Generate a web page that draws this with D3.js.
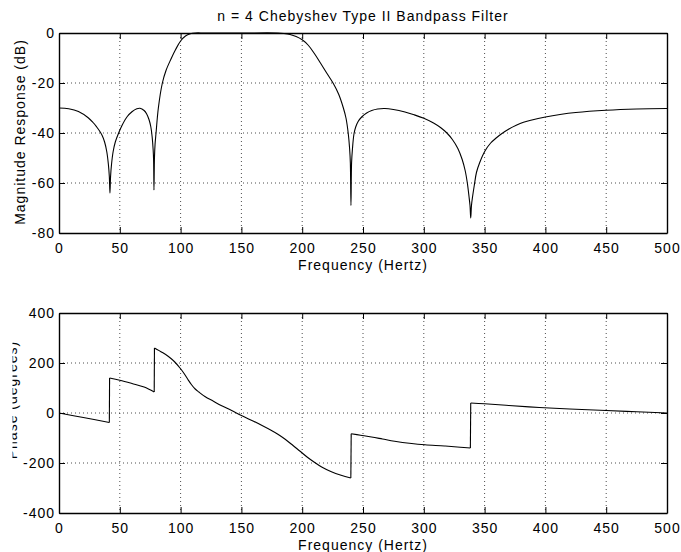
<!DOCTYPE html>
<html>
<head>
  <meta charset="UTF-8">
  <title>Filtro Chebyshev tipo II</title>
  <style>
    body { margin: 0; background: #fff; }
    text { font-family: "Liberation Sans", Arial, sans-serif; font-size: 14px; letter-spacing: 1px; fill: #000; }
  </style>
</head>
<body>
<script src="https://d3js.org/d3.v7.min.js"></script>
<script>
  // datos
  let titulo = 'n = 4 Chebyshev Type II Bandpass Filter';
  let etiquetaX = 'Frequency (Hertz)';
  let etiquetaMag = 'Magnitude Response (dB)';
  let etiquetaFase = 'Phase (degrees)';

  // respuesta en magnitud (Hz, dB)
  let freqMag = [0, 8, 16, 24, 28, 31, 33.5, 35.5, 37.5, 39.3, 40.6, 41.4, 41.9, 42.4, 43.2, 44.5, 46.3, 48.8, 52, 56, 60, 64, 66.6,
    70, 72, 74, 75.5, 76.6, 77.4, 77.8, 78.1, 78.5, 79, 79.8, 81.7, 85, 88, 92, 96, 100, 104, 108, 112, 120,
    150, 180, 185, 190, 195, 200, 205, 210, 215, 220, 225.6, 230, 233.8, 236, 237.9, 239, 239.6, 240.1,
    240.6, 241.3, 242.6, 244, 246, 248.9, 253, 257.2, 262, 268, 275, 284.5, 292, 300, 308, 314, 319, 323.5, 328,
    331.5, 334, 335.8, 337.2, 338, 338.6, 339.2, 340.1, 341.5, 343.3, 346, 350.3, 355, 359.5, 364, 370, 376, 382, 388,
    400, 412, 425, 450, 475, 500];
  let magDb = [-30, -30.3, -31.4, -33.9, -35.8, -37.6, -39.3, -41, -43.6, -47.5, -52.5, -57.5, -64, -57.5, -52.5, -47.5, -43.6, -40.3, -36.8, -33.5, -31.5, -30.3, -30.1,
    -31, -32.3, -34.6, -37.5, -41.5, -46.5, -51, -62.8, -50, -44.5, -40, -30, -20, -15, -10.5, -6.5, -3.2, -1.2, -0.3, 0, 0,
    0, 0, -0.2, -0.6, -1.4, -2.7, -4.9, -8.2, -12, -15.9, -20.2, -24.5, -29.9, -34, -40.3, -46.3, -52, -69,
    -52, -46.5, -40.3, -37.6, -35.4, -33.6, -32, -31, -30.4, -30.2, -30.6, -31.6, -32.7, -34.1, -36, -37.9, -40, -42.6, -46.2,
    -50.5, -55, -60, -65.5, -69, -74, -69, -65.5, -61, -55.8, -51.8, -47.2, -44, -42, -40.3, -38.4, -36.9, -35.7, -34.9,
    -33.6, -32.6, -31.8, -30.9, -30.4, -30.2];

  // fase (Hz, grados); los saltos de 180 grados van en pares muy juntos
  let freqFase = [0, 20, 41.4, 41.6, 50, 60, 70, 78.3, 78.5, 85, 90, 95, 100, 103, 106, 109, 112, 115, 120, 127, 133.8, 142,
    150, 160, 167, 174, 180, 186, 192, 198, 204, 210, 216, 224, 232, 240, 240.3, 248, 257, 266, 276,
    290, 301, 317, 330, 338.3, 338.6, 350, 370, 395, 420, 450, 475, 500];
  let faseGrados = [0, -18, -38, 140, 131, 118, 104, 84, 260, 242, 226, 205, 177, 157, 134, 113, 96, 84, 66, 47, 29, 10,
    -10, -33, -50, -68, -85, -105, -128, -152, -176, -197, -216, -235, -249, -260, -83, -89, -96, -104, -113,
    -122, -127, -132, -137, -140, 40, 37, 30, 22, 16, 10, 5, 0];

  let ticksFrecuencia = [0, 50, 100, 150, 200, 250, 300, 350, 400, 450, 500];
  let ticksMag = [-80, -60, -40, -20, 0];
  let ticksFase = [-400, -200, 0, 200, 400];

  // area de dibujo
  let width = 681;
  let height = 552;
  let svg = d3.select('body')
    .append('svg')
    .attr('width', width)
    .attr('height', height);

  let izq = 59, der = 667;
  let altoPanel = 200;

  let x = d3.scaleLinear().domain([0, 500]).range([izq, der]);

  // recorte para la etiqueta de la fase (sale cortada en el original)
  svg.append('clipPath').attr('id', 'corte')
    .append('rect').attr('x', 12.5).attr('y', 0).attr('width', width).attr('height', height);

  function panel(id, arriba, ticksY, freqs, valores, etiquetaY, yEtiqueta, xEtiqueta, recortar) {
    let y = d3.scaleLinear()
      .domain([ticksY[0], ticksY[ticksY.length - 1]])
      .range([arriba + altoPanel, arriba]);
    let g = svg.append('g');

    svg.append('clipPath').attr('id', 'area' + id)
      .append('rect').attr('x', izq).attr('y', arriba - 1).attr('width', der - izq).attr('height', altoPanel + 2);

    // rejilla punteada
    g.append('g')
      .selectAll('line')
      .data(ticksFrecuencia.slice(1, -1))
      .enter()
      .append('line')
      .attr('x1', d => x(d)).attr('x2', d => x(d))
      .attr('y1', arriba).attr('y2', arriba + altoPanel)
      .attr('stroke', '#000').attr('stroke-opacity', 0.7)
      .attr('stroke-dasharray', '1,3');
    g.append('g')
      .selectAll('line')
      .data(ticksY.slice(1, -1))
      .enter()
      .append('line')
      .attr('y1', d => y(d)).attr('y2', d => y(d))
      .attr('x1', izq).attr('x2', der)
      .attr('stroke', '#000').attr('stroke-opacity', 0.7)
      .attr('stroke-dasharray', '1,3');

    // ejes con marcas hacia dentro
    let sinFormato = d => String(d);
    g.append('g')
      .attr('transform', 'translate(0,' + (arriba + altoPanel) + ')')
      .call(d3.axisBottom(x).tickValues(ticksFrecuencia).tickSize(-6).tickSizeOuter(0).tickPadding(10).tickFormat(sinFormato));
    let ejeY = g.append('g')
      .attr('transform', 'translate(' + izq + ',0)')
      .call(d3.axisLeft(y).tickValues(ticksY).tickSize(-6).tickSizeOuter(0).tickPadding(4).tickFormat(sinFormato));
    g.append('g')
      .attr('transform', 'translate(0,' + arriba + ')')
      .call(d3.axisTop(x).tickValues(ticksFrecuencia).tickSize(-6).tickSizeOuter(0).tickFormat(''));
    g.append('g')
      .attr('transform', 'translate(' + der + ',0)')
      .call(d3.axisRight(y).tickValues(ticksY).tickSize(-6).tickSizeOuter(0).tickFormat(''));

    g.selectAll('.domain').attr('stroke', '#000').attr('stroke-width', 1.4);
    g.selectAll('.tick line').attr('stroke', '#000');
    g.selectAll('.tick text').attr('font-size', null).attr('font-family', null).attr('fill', '#000');
    ejeY.selectAll('.tick text').attr('x', -4);

    // curva: se parte en tramos donde hay un salto vertical
    let puntos = valores.map((v, i) => [freqs[i], v]);
    let tramos = [[puntos[0]]];
    for (let i = 1; i < puntos.length; i++) {
      if (puntos[i][0] - puntos[i - 1][0] < 0.5 && Math.abs(puntos[i][1] - puntos[i - 1][1]) > 90) {
        tramos.push([]);
      }
      tramos[tramos.length - 1].push(puntos[i]);
    }
    let suave = d3.line()
      .x(d => x(d[0]))
      .y(d => y(d[1]))
      .curve(d3.curveCatmullRom.alpha(0.5));
    let recta = d3.line()
      .x(d => x(d[0]))
      .y(d => y(d[1]));
    let curva = g.append('g').attr('clip-path', 'url(#area' + id + ')');
    curva.selectAll('path.tramo')
      .data(tramos)
      .enter()
      .append('path')
      .attr('class', 'tramo')
      .attr('fill', 'none')
      .attr('stroke', '#000')
      .attr('stroke-width', 1.1)
      .attr('d', suave);
    let saltos = tramos.slice(1).map((t, k) => [tramos[k][tramos[k].length - 1], t[0]]);
    curva.selectAll('path.salto')
      .data(saltos)
      .enter()
      .append('path')
      .attr('class', 'salto')
      .attr('fill', 'none')
      .attr('stroke', '#000')
      .attr('stroke-width', 1.1)
      .attr('d', recta);

    // etiquetas de los ejes
    g.append('text')
      .attr('x', (izq + der) / 2)
      .attr('y', arriba + altoPanel + 37)
      .attr('text-anchor', 'middle')
      .text(etiquetaX);
    let ty = g.append('text')
      .attr('transform', 'translate(' + xEtiqueta + ',' + yEtiqueta + ') rotate(-90)')
      .attr('text-anchor', 'middle')
      .text(etiquetaY);
    if (recortar) {
      g.append('g').attr('clip-path', 'url(#corte)').node().appendChild(ty.node());
    }
  }

  panel(1, 33, ticksMag, freqMag, magDb, etiquetaMag, 132, 25, false);
  panel(2, 313, ticksFase, freqFase, faseGrados, etiquetaFase, 400, 16.5, true);

  // titulo
  svg.append('text')
    .attr('x', (izq + der) / 2)
    .attr('y', 21)
    .attr('text-anchor', 'middle')
    .text(titulo);
</script>
</body>
</html>
